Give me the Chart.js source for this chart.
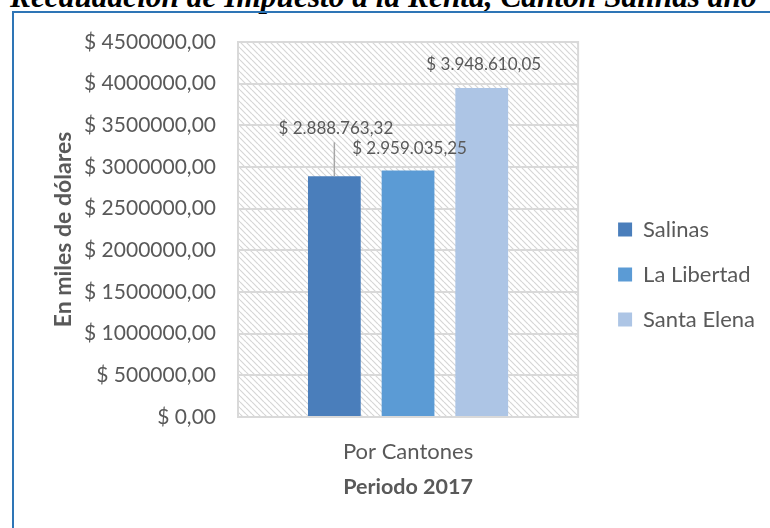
<!DOCTYPE html>
<html>
<head>
<meta charset="utf-8">
<script src="https://cdn.jsdelivr.net/npm/chart.js@4.4.1/dist/chart.umd.min.js"></script>
<style>
  body { margin: 0; background: #fff; overflow: hidden; }
  #title {
    position: absolute; left: 10px; top: 0; white-space: nowrap;
    font-family: "Liberation Serif", "Times New Roman", serif;
    font-weight: bold; font-style: italic; color: #000;
  }
  #frame {
    position: absolute; left: 12px; top: 11px; width: 900px; height: 700px;
    border: 2px solid #2e75b6;
  }
  #wrap { position: absolute; left: 0; top: 0; width: 770px; height: 528px; }
</style>
</head>
<body>
<div id="title">Recaudación de Impuesto a la Renta, Cantón Salinas año</div>
<div id="frame"></div>
<div id="wrap"><canvas id="recaudacion" width="770" height="528"></canvas></div>
<script>
// datos del periodo 2017
let categorias = ["Por Cantones"];
let cantones = ["Salinas", "La Libertad", "Santa Elena"];
let recaudado = [2888763.32, 2959035.25, 3948610.05];
let colores = ["#4a7ebb", "#5b9bd5", "#adc5e5"];

// el titulo se corta arriba, se ajusta al ancho
let t = document.getElementById("title");
t.style.fontSize = "100px";
let fs = 100 * 747 / t.offsetWidth;
t.style.fontSize = fs + "px";
t.style.top = (7 - fs * 0.891) + "px";

const gris = "#595959";
const fuente = "Lato, 'Open Sans', sans-serif";

function dolares(v) {
	let partes = v.toFixed(2).split(".");
	let entero = partes[0].replace(/\B(?=(\d{3})+(?!\d))/g, ".");
	return "$ " + entero + "," + partes[1];
}

// trama diagonal del fondo
function trama() {
	let s = 6;
	let c = document.createElement("canvas");
	c.width = s; c.height = s;
	let g = c.getContext("2d");
	g.strokeStyle = "#d6d6d6";
	g.lineWidth = 1.2;
	for (let k = -s; k <= s; k += s) {
		g.beginPath();
		g.moveTo(k, 0);
		g.lineTo(k + s, s);
		g.stroke();
	}
	return c;
}

const fondo = {
	id: "fondo",
	beforeDraw(chart) {
		let a = chart.chartArea, ctx = chart.ctx;
		ctx.save();
		ctx.fillStyle = ctx.createPattern(trama(), "repeat");
		ctx.fillRect(a.left, a.top, a.right - a.left, a.bottom - a.top);
		ctx.restore();
	},
	afterDraw(chart) {
		let a = chart.chartArea, ctx = chart.ctx;
		ctx.save();
		ctx.strokeStyle = "#d9d9d9";
		ctx.lineWidth = 2;
		ctx.strokeRect(a.left, a.top, a.right - a.left, a.bottom - a.top);
		ctx.restore();
	}
};

// etiquetas de valor, la de Salinas va mas arriba con linea guia
const desplaza = [{dx: 1.5, dy: -48, guia: true}, {dx: 1.5, dy: -22}, {dx: 2, dy: -23}];
const etiquetas = {
	id: "etiquetas",
	afterDatasetsDraw(chart) {
		let ctx = chart.ctx;
		ctx.save();
		ctx.font = "17px " + fuente;
		ctx.fillStyle = gris;
		ctx.textAlign = "center";
		ctx.textBaseline = "middle";
		chart.data.datasets.forEach((ds, i) => {
			let bar = chart.getDatasetMeta(i).data[0];
			let d = desplaza[i];
			let y = bar.y + d.dy;
			if (d.guia) {
				ctx.strokeStyle = "#a6a6a6";
				ctx.lineWidth = 1.5;
				ctx.beginPath();
				ctx.moveTo(bar.x, y + 14);
				ctx.lineTo(bar.x, bar.y);
				ctx.stroke();
			}
			ctx.fillText(dolares(ds.data[0]), bar.x + d.dx, y);
		});
		ctx.restore();
	}
};

// la leyenda queda mas separada del area de trazado
const leyendaCorrida = {
	id: "leyendaCorrida",
	afterLayout(chart) {
		chart.legend.left += 17;
		chart.legend.right += 17;
	}
};

let datasets = [];
for (let i = 0; i < cantones.length; i++) {
	datasets.push({
		label: cantones[i],
		data: [recaudado[i]],
		backgroundColor: colores[i],
		categoryPercentage: 0.65,
		barPercentage: 0.716
	});
}

new Chart(document.getElementById("recaudacion"), {
	type: "bar",
	data: { labels: categorias, datasets: datasets },
	options: {
		responsive: false,
		animation: false,
		layout: { padding: { left: 0, right: 22, top: 42, bottom: 21 } },
		plugins: {
			legend: {
				position: "right",
				labels: {
					boxWidth: 14, boxHeight: 14, padding: 23,
					color: gris, font: { family: fuente, size: 22 }
				}
			},
			tooltip: { enabled: false }
		},
		scales: {
			x: {
				grid: { display: false, drawTicks: false },
				border: { display: false },
				ticks: { color: gris, padding: 22, font: { family: fuente, size: 22 } },
				title: {
					display: true, text: "Periodo 2017", color: gris,
					font: { family: fuente, size: 21.5, weight: "bold" },
					padding: { top: 0, bottom: 7 }
				},
				afterFit(scale) { scale.height = 90; }
			},
			y: {
				min: 0, max: 4500000,
				grid: { color: "#d9d9d9", lineWidth: 2, drawTicks: false },
				border: { display: false },
				ticks: {
					stepSize: 500000, padding: 22, color: gris,
					font: { family: fuente, size: 21 },
					callback: (v) => "$ " + v + ",00"
				},
				title: {
					display: true, text: "En miles de dólares", color: gris,
					font: { family: fuente, size: 23, weight: "bold" },
					padding: { top: 50, bottom: 0 }
				},
				afterFit(scale) { scale.width = 238; }
			}
		}
	},
	plugins: [fondo, etiquetas, leyendaCorrida]
});
</script>
</body>
</html>
